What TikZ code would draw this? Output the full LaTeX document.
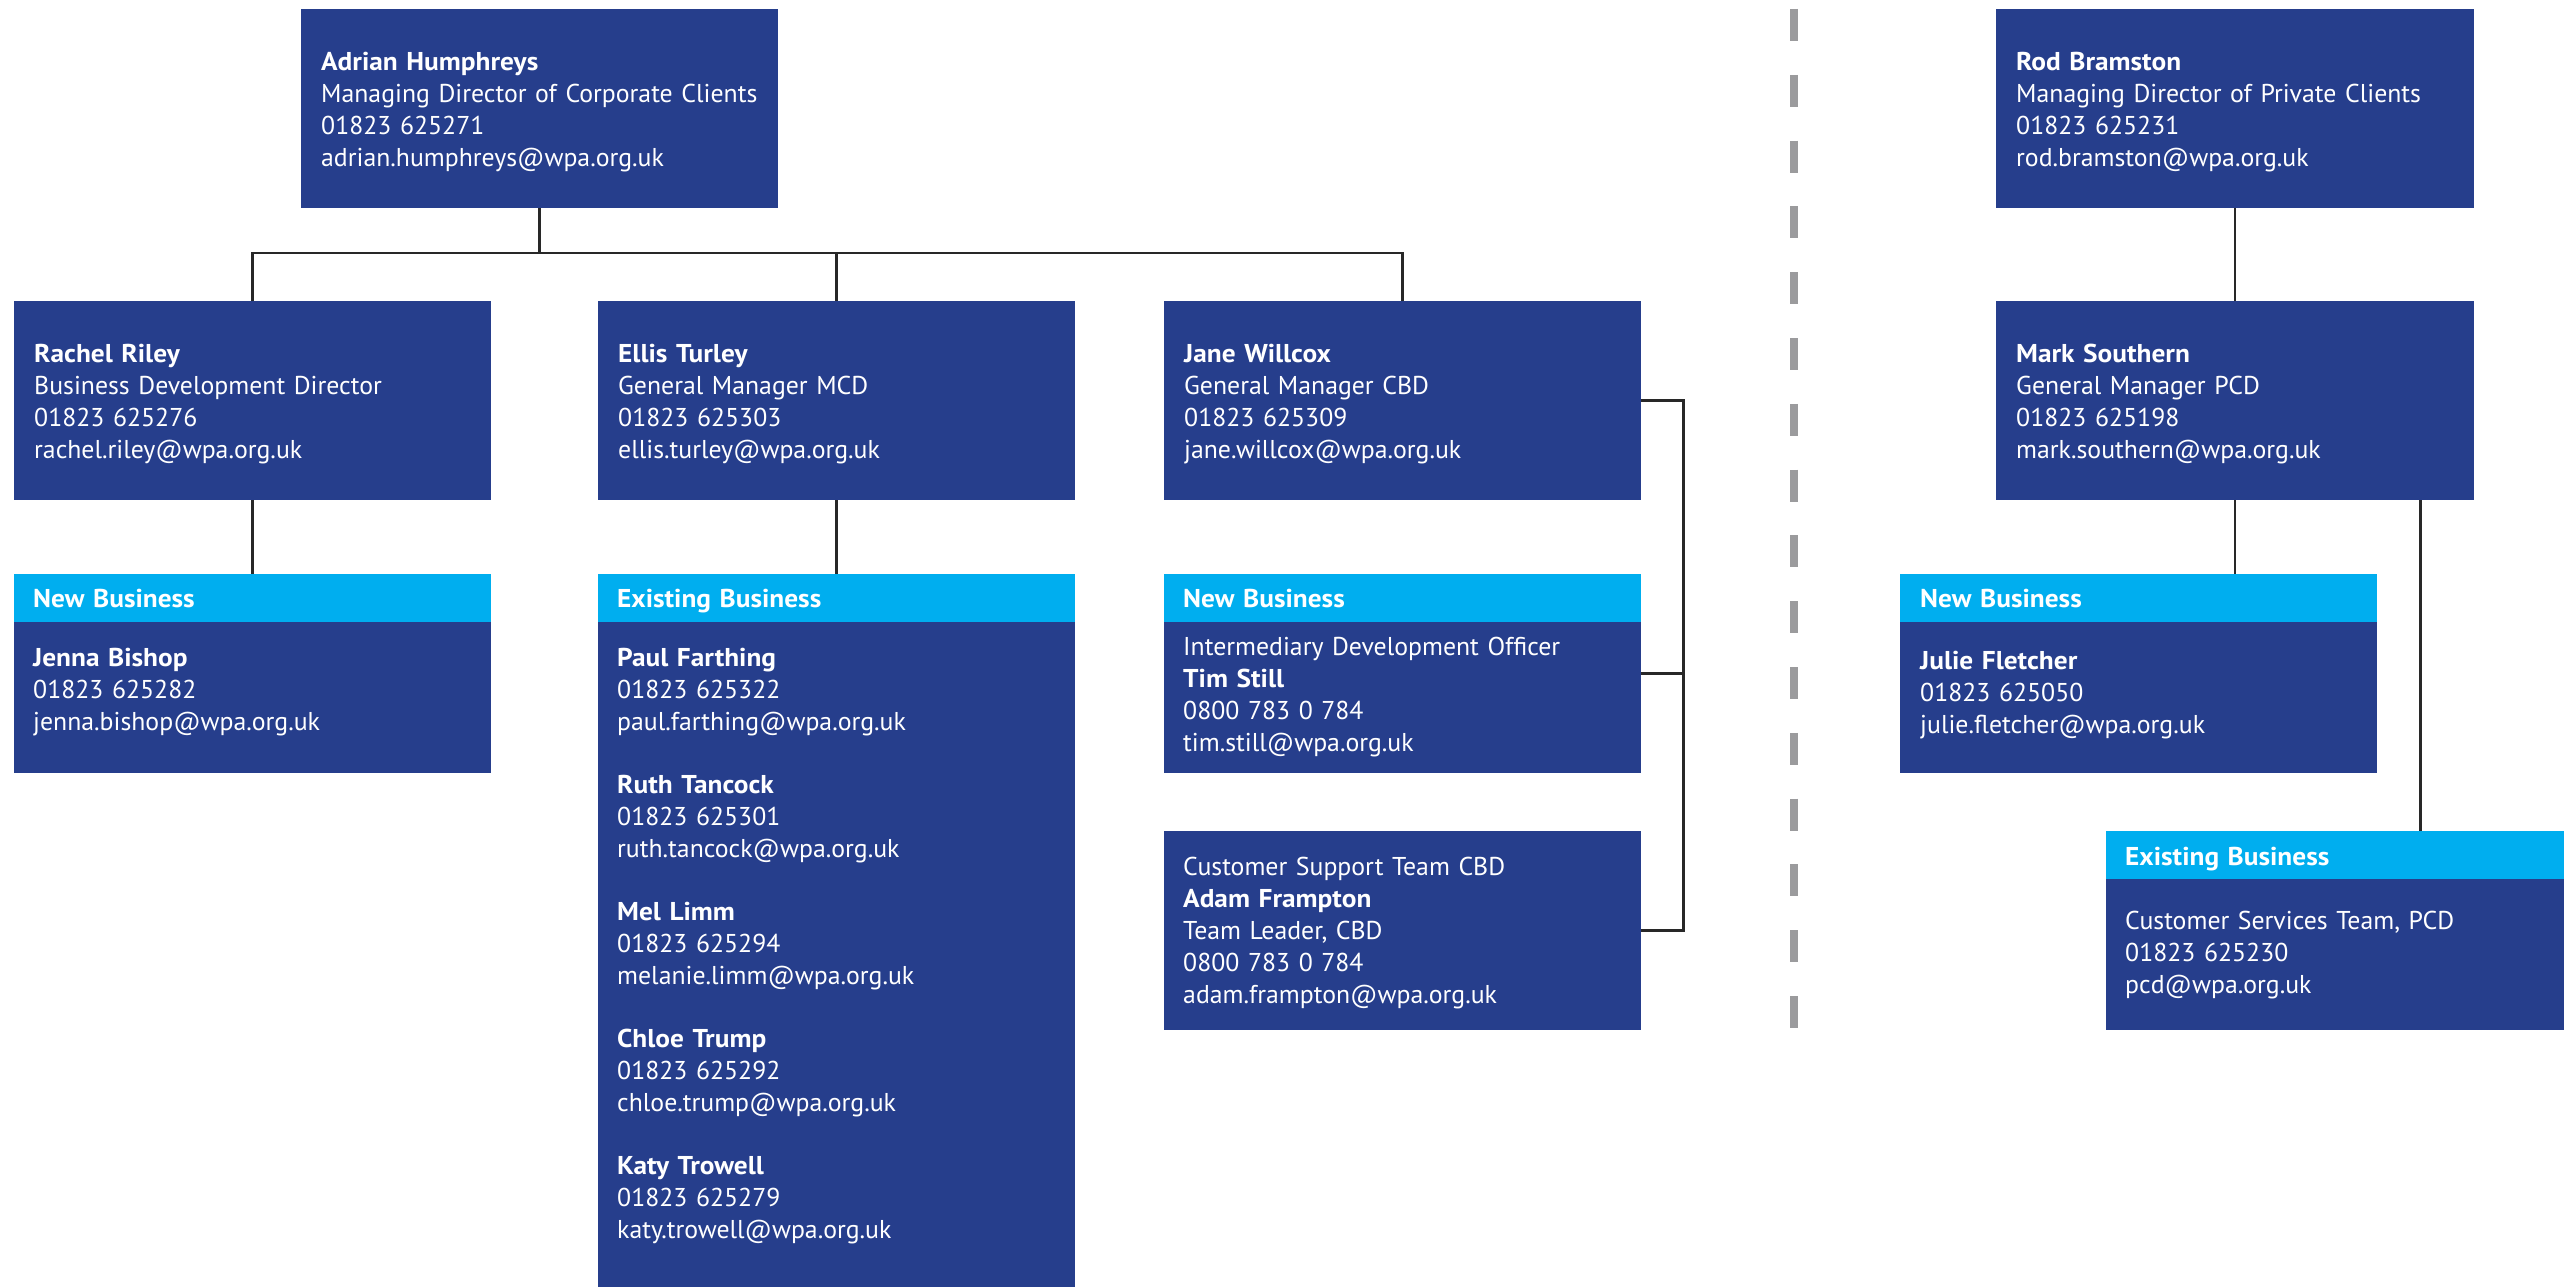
\documentclass[tikz,border=0pt]{standalone}
\usepackage{fontspec}
\setmainfont{PT Sans}[BoldFeatures={FakeStretch=1.06}]
\usetikzlibrary{calc}
\definecolor{wpablue}{RGB}{38,62,140}
\definecolor{wpacyan}{RGB}{0,174,239}
\definecolor{linedark}{RGB}{40,40,40}
\definecolor{divgray}{RGB}{155,155,157}
\newlength\calw
\tikzset{
  box/.style={fill=wpablue, draw=none, inner sep=0pt, anchor=north west},
  hdr/.style={fill=wpacyan, draw=none, inner sep=0pt, anchor=north west},
  txt/.style={text=white, anchor=base west, inner sep=0pt, align=left, text width=440pt, font=\wpafont},
  conn/.style={draw=linedark, line width=2.5pt},
  divider/.style={draw=divgray, line width=8pt, dash pattern=on 32pt off 33.8pt},
}
\begin{document}
\settowidth\calw{\normalfont\fontsize{10pt}{12pt}\selectfont Managing Director of Private Clients}%
\pgfmathsetmacro\fsz{10*398/\calw}%
\gdef\wpafont{\fontsize{\fsz pt}{32pt}\selectfont}%
\begin{tikzpicture}[x=1pt,y=-1pt]
\useasboundingbox (0,0) rectangle (2564,1287);
% ---- boxes ----
\node[box, minimum width=477pt, minimum height=199pt] (adrian) at (301,9) {};
\node[box, minimum width=477pt, minimum height=199pt] (rachel) at (14,301) {};
\node[box, minimum width=477pt, minimum height=199pt] (ellis) at (598,301) {};
\node[box, minimum width=477pt, minimum height=199pt] (jane) at (1164,301) {};
\node[box, minimum width=478pt, minimum height=199pt] (rod) at (1996,9) {};
\node[box, minimum width=478pt, minimum height=199pt] (mark) at (1996,301) {};
\node[hdr, minimum width=477pt, minimum height=48pt] (nbA) at (14,574) {};
\node[box, minimum width=477pt, minimum height=151pt] (nbAb) at (14,622) {};
\node[hdr, minimum width=477pt, minimum height=48pt] (ebA) at (598,574) {};
\node[box, minimum width=477pt, minimum height=665pt] (ebAb) at (598,622) {};
\node[hdr, minimum width=477pt, minimum height=48pt] (nbB) at (1164,574) {};
\node[box, minimum width=477pt, minimum height=151pt] (nbBb) at (1164,622) {};
\node[box, minimum width=477pt, minimum height=199pt] (cs) at (1164,831) {};
\node[hdr, minimum width=477pt, minimum height=48pt] (nbC) at (1900,574) {};
\node[box, minimum width=477pt, minimum height=151pt] (nbCb) at (1900,622) {};
\node[hdr, minimum width=458pt, minimum height=48pt] (ebB) at (2106,831) {};
\node[box, minimum width=458pt, minimum height=151pt] (ebBb) at (2106,879) {};
% ---- texts ----
\node[txt] (adrianT) at (321,70.5) {\textbf{Adrian Humphreys}\\Managing Director of Corporate Clients\\01823 625271\\adrian.humphreys@wpa.org.uk};
\node[txt] (rachelT) at (34,362.5) {\textbf{Rachel Riley}\\Business Development Director\\01823 625276\\rachel.riley@wpa.org.uk};
\node[txt] (ellisT) at (618,362.5) {\textbf{Ellis Turley}\\General Manager MCD\\01823 625303\\ellis.turley@wpa.org.uk};
\node[txt] (janeT) at (1184,362.5) {\textbf{Jane Willcox}\\General Manager CBD\\01823 625309\\jane.willcox@wpa.org.uk};
\node[txt] (rodT) at (2016,70.5) {\textbf{Rod Bramston}\\Managing Director of Private Clients\\01823 625231\\rod.bramston@wpa.org.uk};
\node[txt] (markT) at (2016,362.5) {\textbf{Mark Southern}\\General Manager PCD\\01823 625198\\mark.southern@wpa.org.uk};
\node[txt] (nbAT) at (33,607.5) {\textbf{New Business}};
\node[txt] (ebAT) at (617,607.5) {\textbf{Existing Business}};
\node[txt] (nbBT) at (1183,607.5) {\textbf{New Business}};
\node[txt] (nbCT) at (1920,607.5) {\textbf{New Business}};
\node[txt] (ebBT) at (2125,865) {\textbf{Existing Business}};
\node[txt] (jennaT) at (33,666) {\textbf{Jenna Bishop}\\01823 625282\\jenna.bishop@wpa.org.uk};
\node[txt] (listT) at (617,666) {\textbf{Paul Farthing}\\01823 625322\\paul.farthing@wpa.org.uk\\[31pt]
\textbf{Ruth Tancock}\\01823 625301\\ruth.tancock@wpa.org.uk\\[31pt]
\textbf{Mel Limm}\\01823 625294\\melanie.limm@wpa.org.uk\\[31pt]
\textbf{Chloe Trump}\\01823 625292\\chloe.trump@wpa.org.uk\\[31pt]
\textbf{Katy Trowell}\\01823 625279\\katy.trowell@wpa.org.uk};
\node[txt] (timT) at (1183,655) {Intermediary Development Officer\\\textbf{Tim Still}\\0800 783 0 784\\tim.still@wpa.org.uk};
\node[txt] (csT) at (1183,875) {Customer Support Team CBD\\\textbf{Adam Frampton}\\Team Leader, CBD\\0800 783 0 784\\adam.frampton@wpa.org.uk};
\node[txt] (julieT) at (1920,669) {\textbf{Julie Fletcher}\\01823 625050\\julie.fletcher@wpa.org.uk};
\node[txt] (pcdT) at (2125,929) {Customer Services Team, PCD\\01823 625230\\pcd@wpa.org.uk};
% ---- connectors ----
\draw[conn] (adrian.south) -- ++(0,45);
\draw[conn] (rachel.north) -- ++(0,-48) -| (jane.north);
\draw[conn] (ellis.north) -- ++(0,-48);
\draw[conn] (rachel.south) -- (nbA.north);
\draw[conn] (ellis.south) -- (ebA.north);
\draw[conn] (jane.east) -- ++(42,0) |- (cs.east);
\draw[conn] ($(nbB.north east)!0.5!(nbBb.south east)$) -- ++(42,0);
\draw[conn] (rod.south) -- (mark.north);
\draw[conn] (mark.south) -- (mark.south |- nbC.north);
\draw[conn] ([xshift=-54pt]mark.south east) -- ([xshift=-54pt]mark.south east |- ebB.north);
% ---- divider ----
\coordinate (divtop) at (1794,9);
\coordinate (divbot) at (1794,1030);
\draw[divider] (divtop) -- (divbot);
\end{tikzpicture}
\end{document}
